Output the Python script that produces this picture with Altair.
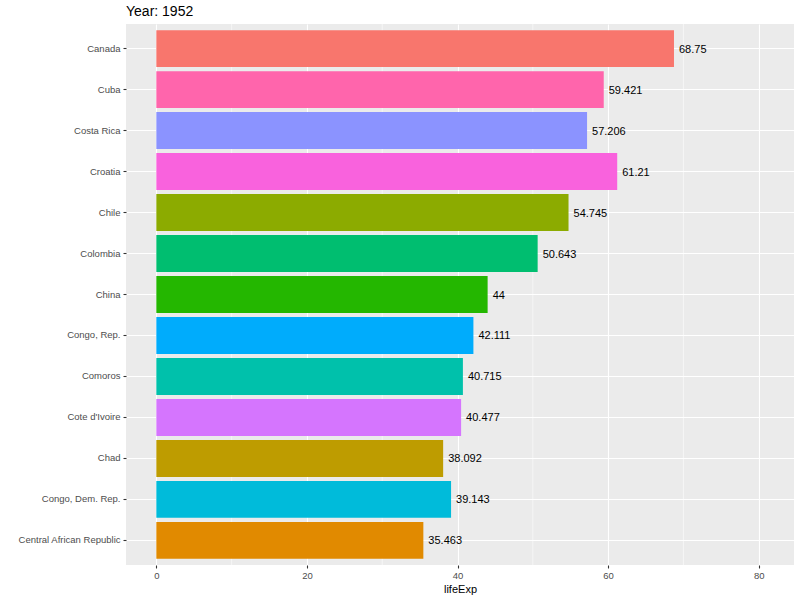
import altair as alt
import pandas as pd

# Life expectancy by country, year 1952 (top-to-bottom order of the bars)
countries = [
    "Canada", "Cuba", "Costa Rica", "Croatia", "Chile", "Colombia", "China",
    "Congo, Rep.", "Comoros", "Cote d'Ivoire", "Chad", "Congo, Dem. Rep.",
    "Central African Republic",
]
life_exp = [68.75, 59.421, 57.206, 61.21, 54.745, 50.643, 44.0,
            42.111, 40.715, 40.477, 38.092, 39.143, 35.463]
labels = ["68.75", "59.421", "57.206", "61.21", "54.745", "50.643", "44",
          "42.111", "40.715", "40.477", "38.092", "39.143", "35.463"]

# Default ggplot hue palette, assigned alphabetically by country
palette_countries = sorted(countries)
palette_colors = ["#F8766D", "#E18A00", "#BE9C00", "#8CAB00", "#24B700",
                  "#00BE70", "#00C1AB", "#00BBDA", "#00ACFC", "#8B93FF",
                  "#D575FE", "#F962DD", "#FF65AC"]

minor_breaks = [10, 30, 50, 70]
major_breaks = [0, 20, 40, 60, 80]

df = pd.DataFrame({"country": countries, "lifeExp": life_exp, "label": labels})
minor_df = pd.DataFrame({"x": minor_breaks})

x_scale = alt.Scale(domain=[-4.03, 84.69], nice=False, zero=False)
y_scale = alt.Scale(domain=countries, paddingInner=0.1, paddingOuter=0.15)

font = "Liberation Sans"

minor = alt.Chart(minor_df).mark_rule(color="white", strokeWidth=0.55).encode(
    x=alt.X("x:Q", scale=x_scale)
)

bars = alt.Chart(df).mark_bar().encode(
    y=alt.Y("country:N", scale=y_scale, sort=countries, title=None,
            axis=alt.Axis(grid=True, gridColor="white", gridWidth=1.1,
                          bandPosition=0.5, domain=False, tickColor="#333333",
                          tickSize=3, tickWidth=1.1, labelColor="#4D4D4D",
                          labelFont=font, labelFontSize=9.5, labelPadding=3)),
    x=alt.X("lifeExp:Q", scale=x_scale, title="lifeExp",
            axis=alt.Axis(values=major_breaks, grid=True, gridColor="white",
                          gridWidth=1.1, domain=False, tickColor="#333333",
                          tickSize=3, tickWidth=1.1, labelColor="#4D4D4D",
                          labelFont=font, labelFontSize=9.5, labelPadding=2,
                          titleFont=font, titleFontSize=11, titleFontWeight="normal",
                          titleColor="black", titlePadding=4)),
    color=alt.Color("country:N", legend=None,
                    scale=alt.Scale(domain=palette_countries, range=palette_colors)),
)

text = alt.Chart(df).mark_text(align="left", baseline="middle", dx=5, dy=1,
                               font=font, fontSize=11, color="black").encode(
    y=alt.Y("country:N", scale=y_scale, sort=countries),
    x=alt.X("lifeExp:Q", scale=x_scale),
    text="label:N",
)

chart = alt.layer(minor, bars, text).properties(
    width=668, height=541,
    title=alt.TitleParams("Year: 1952", anchor="start", frame="group", font=font,
                          fontSize=14, fontWeight="normal", color="black", offset=5),
    autosize=alt.AutoSizeParams(type="none"),
    padding={"left": 126, "top": 24, "right": 6, "bottom": 35},
    background="white",
).configure_view(fill="#EBEBEB", stroke=None)

chart.save("out.html", embed_options={"renderer": "svg", "actions": False})
